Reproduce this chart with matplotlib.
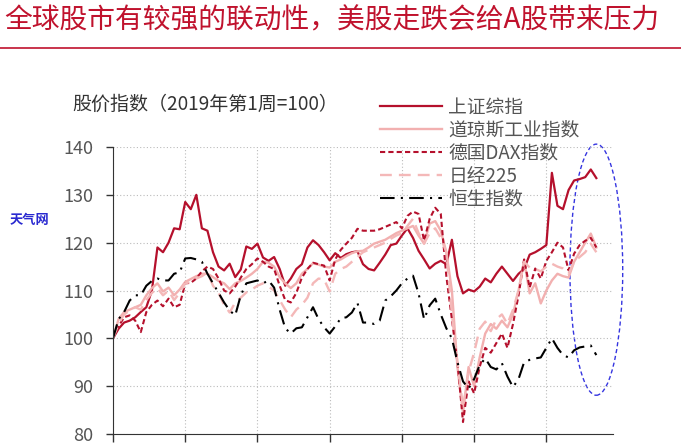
import matplotlib
matplotlib.use("Agg")
import matplotlib.pyplot as plt
from matplotlib.patches import Ellipse
import numpy as np

plt.rcParams['font.family'] = ['Noto Sans CJK SC', 'DejaVu Sans']

# weekly index, 2019 week 1 = 100
shanghai = [100, 102, 103.3, 103.7, 104.4, 105.5, 106.5, 110, 119, 118, 120, 123, 122.8, 128.5,
            127, 130, 123, 122.5, 118, 115, 114.2, 115.6, 112.8, 114.4, 119.2, 118.7, 119.8, 116.9,
            116.2, 117, 114.5, 111, 112.5, 114.5, 115.5, 119, 120.5, 119.5, 118, 116.3, 117.8, 116.8,
            117.6, 118, 118.2, 115.5, 114.5, 114.2, 115.8, 117.5, 119.5, 119.8, 121.5, 123, 121,
            118.3, 116.5, 114.6, 115.6, 116.2, 115.5, 120.6, 113, 109.4, 110.2, 109.8, 110.8, 112.5,
            111.7, 113.5, 115, 113.5, 112, 113.5, 114.5, 117.5, 118, 118.7, 119.5, 134.6, 127.7,
            127, 131, 133, 133.3, 133.7, 135.3, 133.5]
dow = [100, 104, 105.5, 106, 106.5, 107, 109, 110.5, 111.5, 109.8, 110.6, 109, 110.2, 111.8,
       112.4, 113, 113.5, 113.5, 112.8, 112, 111.5, 110.3, 111.5, 112, 112.7, 113.5, 114.5, 116,
       115.8, 115, 112.8, 111.5, 110.5, 111.5, 113.5, 114.5, 115.7, 115.4, 115, 114.8, 116, 116.5,
       117.2, 117.8, 118.2, 118.3, 119, 119.8, 120.2, 120.6, 121.3, 122, 122.5, 123, 123.5, 121.5,
       119.8, 124, 124.5, 122.5, 118, 110, 94, 84.4, 94, 90, 96, 101, 103, 102, 103.7, 102.3, 105,
       110, 116.2, 109.4, 111.5, 107.3, 110, 112.1, 113.5, 113, 112.7, 116, 118, 120, 121.9, 119]
dax = [100, 102.5, 104.4, 104.8, 103.7, 101.3, 105.5, 107, 107.9, 106.7, 108.3, 106.5, 107, 111.5,
       111.6, 112.5, 114, 115, 114.5, 112.5, 110, 109.4, 110.8, 112.7, 114.5, 115.5, 116.7, 116,
       115, 114.5, 111, 108, 107.5, 109.5, 112.7, 114.5, 115.8, 115.5, 115.2, 112.1, 116.5, 118.5,
       119.8, 121, 122.9, 122.5, 122.5, 122.5, 122.8, 123.3, 123.8, 124.3, 123, 125.6, 126.5, 126,
       120.4, 125, 127.3, 126, 113, 104, 95, 82.5, 91, 88.5, 94, 98, 97, 99, 101, 98, 103, 109,
       116.5, 110.6, 114.6, 112.5, 116.2, 118, 120, 119, 114.2, 117.7, 119.5, 120.4, 121, 119]
nikkei = [100, 103, 105, 105.8, 106.5, 106, 108, 109.5, 110.5, 109, 110, 108, 109.5, 111.5, 111.8,
          112.5, 113, 113.8, 111, 109.5, 107, 105.4, 107.5, 108.5, 109.6, 110.2, 111, 111.5, 110.8,
          110, 108, 106, 104.4, 106, 107, 108.5, 111.5, 112.5, 112.3, 109.8, 113.5, 114.5, 115, 116,
          117, 118, 118.5, 119, 119.5, 120, 120.8, 121.5, 122, 123.5, 125, 122, 119.8, 122, 123, 121,
          118, 105, 95, 85.5, 93, 97, 102, 103.5, 101.5, 104, 105, 103, 106, 110, 116, 114.8, 114.5,
          114, 115, 115.6, 115, 114.6, 113.5, 116, 117, 118, 119.8, 118]
hangseng = [100, 104, 105.5, 107.9, 109, 109, 111, 112, 112.5, 112.1, 112.1, 113.5, 113.8, 116.7,
            116.8, 116.5, 116, 113.5, 111.5, 109.5, 107.5, 105.8, 104.8, 109, 111.5, 111.8, 112.1,
            111.5, 112.1, 110.6, 106, 102.1, 101, 102.1, 102.3, 104.4, 106.5, 104, 102.3, 101, 102.5,
            104.2, 104.4, 105.4, 107.4, 103.3, 103.3, 103, 103.7, 107.9, 108.8, 110, 111.5, 112.5,
            113.1, 109.4, 104, 106.9, 108.3, 105, 102.1, 100, 95, 91, 89.5, 91.5, 94.4, 95.8, 94,
            93.5, 94.8, 92, 89.8, 91.5, 95, 95.5, 95.8, 96, 98, 100, 98, 96.5, 96, 97.5, 98.1, 98.3,
            98.5, 96.5]
names = ['上证综指', '道琼斯工业指数', '德国DAX指数', '日经225', '恒生指数']
title = '全球股市有较强的联动性，美股走跌会给A股带来压力'
ylabel = '股价指数（2019年第1周=100）'

weeks = np.arange(len(shanghai))
red = '#b5102c'
pink = '#f2b0b0'

fig = plt.figure(figsize=(6.81, 4.47), dpi=100)
ax = fig.add_axes([113 / 681, 1 - 434 / 447, 500 / 681, 287 / 447])

ax.plot(weeks, shanghai, color=red, lw=1.6, label=names[0])
ax.plot(weeks, dow, color=pink, lw=1.7, label=names[1])
ax.plot(weeks, dax, color=red, lw=1.5, dashes=(2.5, 1.5), label=names[2])
ax.plot(weeks, nikkei, color='#f4b8b8', lw=1.7, dashes=(5, 3), label=names[3])
ax.plot(weeks, hangseng, color='black', lw=1.5, dashes=(7, 3, 1, 3), label=names[4])

ax.set_xlim(0, 90)
ax.set_ylim(80, 140)
ax.set_xticks(np.arange(0, 79, 13))
ax.set_xticklabels([])
ax.set_yticks(np.arange(80, 141, 10))
ax.tick_params(axis='y', direction='out', length=5, width=1, labelsize=13, labelcolor='#555555', pad=9, color='#333333')
ax.tick_params(axis='x', direction='out', length=6, width=1, color='#333333')
for s in ['top', 'right']:
    ax.spines[s].set_visible(False)
for s in ['left', 'bottom']:
    ax.spines[s].set_color('#333333')
ax.grid(True, linestyle=(0, (1, 2)), color='#bbbbbb', lw=0.8)

ell = Ellipse((87.0, 114.35), 9.5, 52.5, fill=False, edgecolor='#3535e0', lw=1.0,
              linestyle=(0, (3, 2)), clip_on=False)
ax.add_patch(ell)

ax.legend(loc='upper left', bbox_to_anchor=(380 / 681, 1 - 97 / 447), bbox_transform=fig.transFigure,
          frameon=False, fontsize=13.5, handlelength=3.3, handletextpad=0.35, labelspacing=0.1,
          borderpad=0, borderaxespad=0, labelcolor='#555555')

fig.text(72 / 681, 1 - 104 / 447, ylabel, fontsize=13.7, color='#333333', va='center', ha='left')
fig.text(4 / 681, 1 - 20 / 447, title, fontsize=20, color='#c0122d', va='center', ha='left')
fig.add_artist(plt.Line2D([0, 1], [1 - 48 / 447, 1 - 48 / 447], color='#c0122d', lw=1.2))
fig.text(10 / 681, 1 - 220 / 447, '天气网', fontsize=9.5, color='#2a2ad0', fontweight='bold', va='center', ha='left')

fig.savefig('out.png', dpi=100)
